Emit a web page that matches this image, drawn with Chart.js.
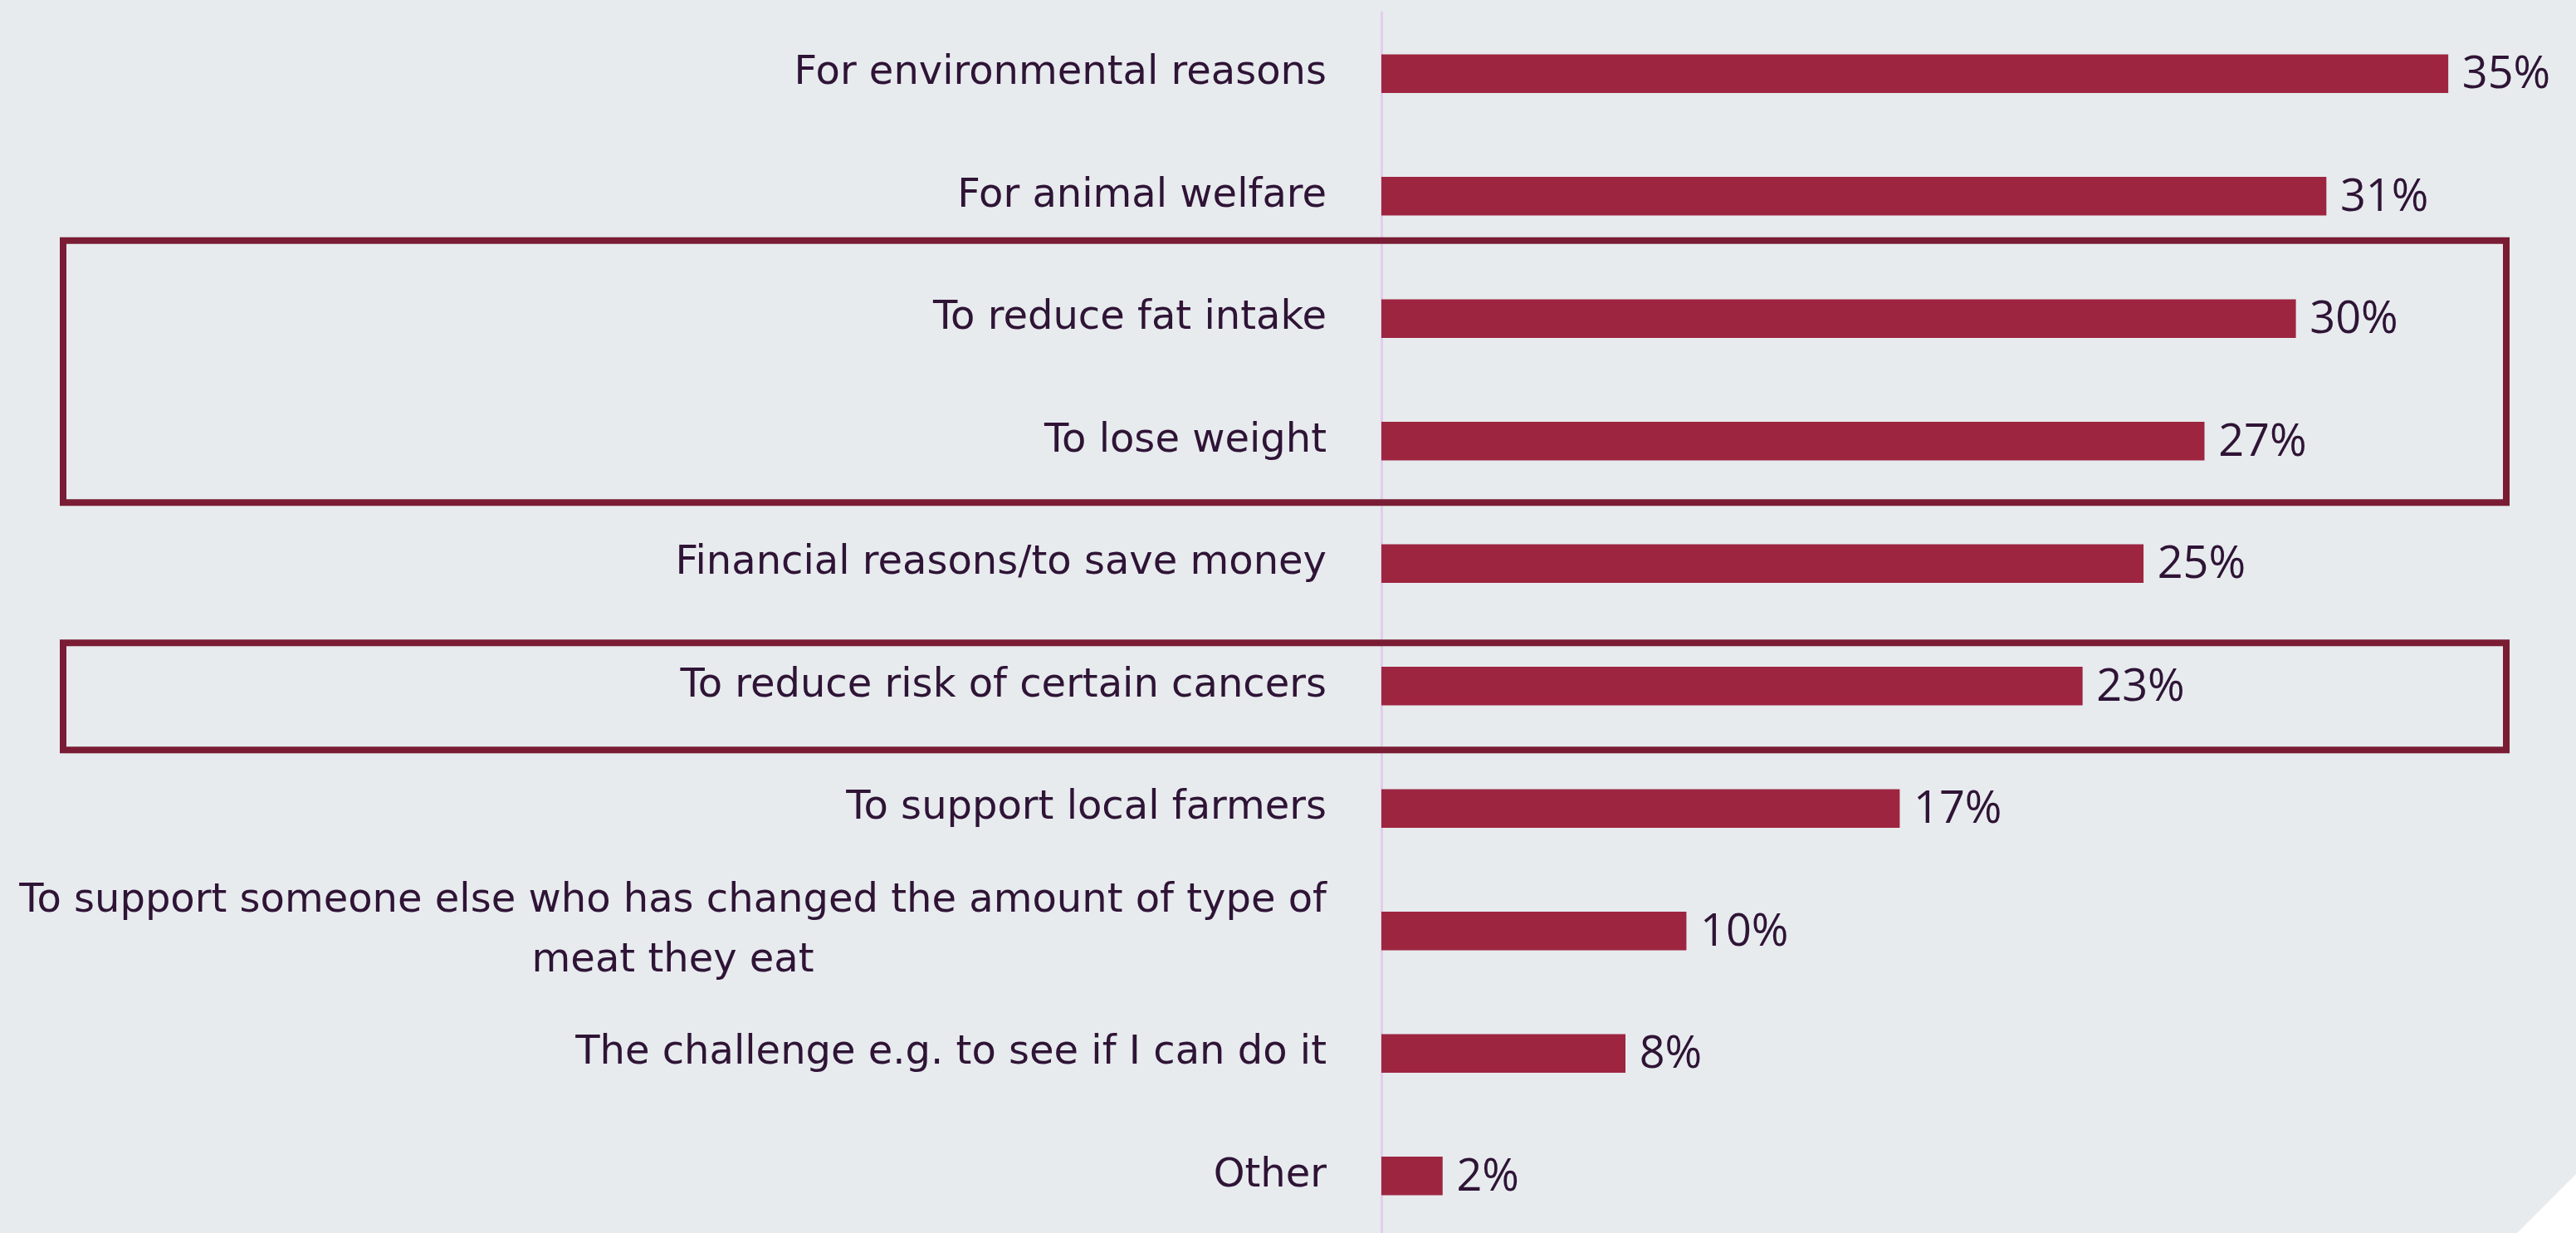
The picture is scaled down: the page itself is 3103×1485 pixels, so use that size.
<!DOCTYPE html>
<html>
<head>
<meta charset="utf-8">
<script src="https://cdn.jsdelivr.net/npm/chart.js@4.4.1/dist/chart.umd.min.js"></script>
<style>
  html, body { margin: 0; padding: 0; overflow: hidden; background: #e7ebee; }
  #wrap { width: 3103px; height: 1490px; position: relative; }
</style>
</head>
<body>
<div id="wrap"><canvas id="myChart"></canvas></div>
<script>
const categories = [
  "For environmental reasons",
  "For animal welfare",
  "To reduce fat intake",
  "To lose weight",
  "Financial reasons/to save money",
  "To reduce risk of certain cancers",
  "To support local farmers",
  ["To support someone else who has changed the amount of type of", "meat they eat"],
  "The challenge e.g. to see if I can do it",
  "Other",
];
const percentages = [35, 31, 30, 27, 25, 23, 17, 10, 8, 2];

// rows outlined with a frame: first row, last row, room above / below the bars
const framedRows = [
  { from: 2, to: 3, above: 94, below: 74 },
  { from: 5, to: 5, above: 52, below: 77 },
];

const barColor = "#9e2540";
const frameColor = "#7a1d34";
const textColor = "#2f1436";
const labelFont = "48px 'DejaVu Sans', sans-serif";
const valueFont = "54px 'Open Sans', sans-serif";

const labelRight = 1598;
const lineHeight = 72;

const decorations = {
  id: "decorations",
  beforeDraw(chart) {
    const { ctx } = chart;
    // cut corner at the bottom right
    ctx.save();
    ctx.fillStyle = "#ffffff";
    ctx.beginPath();
    ctx.moveTo(3103, 1414);
    ctx.lineTo(3103, 1490);
    ctx.lineTo(3027, 1490);
    ctx.closePath();
    ctx.fill();
    ctx.restore();
  },
  afterDraw(chart) {
    const { ctx } = chart;
    const y = chart.scales.y;

    ctx.save();
    ctx.fillStyle = textColor;
    ctx.textBaseline = "middle";

    // category names, multi-line ones centred on their widest line
    ctx.font = labelFont;
    ctx.textAlign = "center";
    categories.forEach((label, i) => {
      const lines = Array.isArray(label) ? label : [label];
      const widest = Math.max(...lines.map((l) => ctx.measureText(l).width));
      const cx = labelRight - widest / 2;
      const top = y.getPixelForValue(i) - ((lines.length - 1) * lineHeight) / 2;
      lines.forEach((line, j) => ctx.fillText(line, cx, top + j * lineHeight));
    });

    // value labels at the end of each bar
    ctx.font = valueFont;
    ctx.textAlign = "left";
    chart.getDatasetMeta(0).data.forEach((bar, i) => {
      ctx.fillText(percentages[i] + "%", bar.x + 17, bar.y + 2);
    });

    // frames round the highlighted rows
    ctx.strokeStyle = frameColor;
    ctx.lineWidth = 8;
    framedRows.forEach((f) => {
      const top = y.getPixelForValue(f.from) - f.above;
      const bottom = y.getPixelForValue(f.to) + f.below;
      ctx.strokeRect(76, top, 3019 - 76, bottom - top);
    });
    ctx.restore();
  },
};

const ctx = document.getElementById("myChart");
new Chart(ctx, {
  type: "bar",
  data: {
    labels: categories,
    datasets: [
      {
        data: percentages,
        backgroundColor: barColor,
        barThickness: 46,
      },
    ],
  },
  options: {
    indexAxis: "y",
    responsive: true,
    maintainAspectRatio: false,
    animation: false,
    layout: { padding: { top: 15, right: 0, bottom: 0, left: 0 } },
    plugins: {
      legend: { display: false },
      tooltip: { enabled: false },
    },
    scales: {
      x: { display: false, min: 0, max: 39.2 },
      y: {
        afterFit(scale) {
          scale.width = 1664;
        },
        ticks: { display: false },
        grid: { display: false, drawTicks: false },
        border: { color: "#e2cdeb", width: 3 },
      },
    },
  },
  plugins: [decorations],
});
</script>
</body>
</html>
